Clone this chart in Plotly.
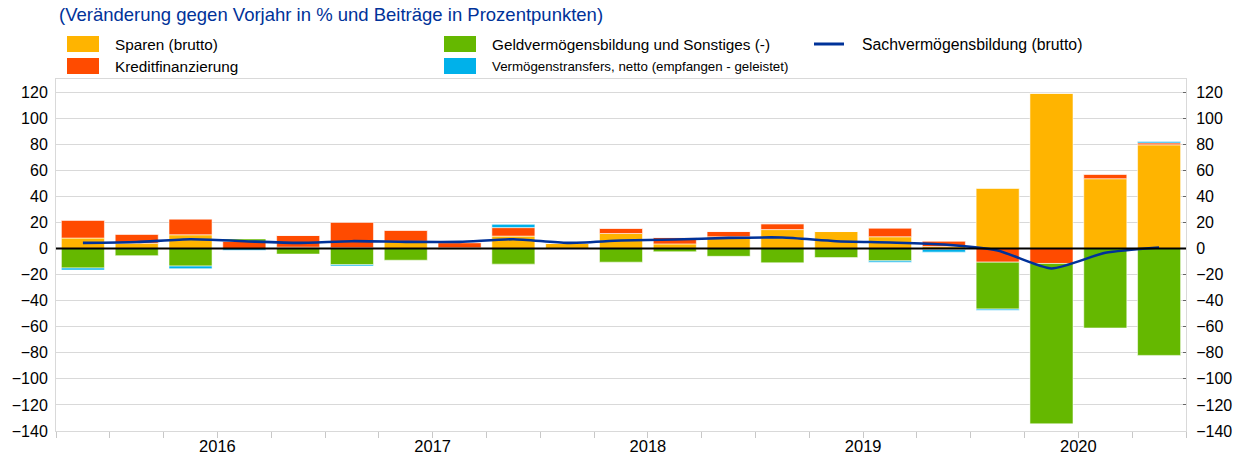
import plotly.graph_objects as go

quarters = ["2015Q4",
            "2016Q1", "2016Q2", "2016Q3", "2016Q4",
            "2017Q1", "2017Q2", "2017Q3", "2017Q4",
            "2018Q1", "2018Q2", "2018Q3", "2018Q4",
            "2019Q1", "2019Q2", "2019Q3", "2019Q4",
            "2020Q1", "2020Q2", "2020Q3", "2020Q4"]
years = ["2016", "2017", "2018", "2019", "2020"]

sparen = [8, 4, 10.5, 0, 1, 0.5, 5.5, 0.5, 9.5, 4, 11.5, 3.5, 9, 14.5, 13, 9, 1.5, 46, 119, 53.5, 79.5]
kredit = [13.5, 7, 12, 5.5, 9, 19.5, 8.5, 4, 6.5, 0, 4, 5, 4, 4.5, 0, 6.5, 4, -10.5, -11.5, 3.5, 1.5]
geld = [-15, -5.5, -13.5, 1.8, -4.3, -12.5, -9, -0.5, -12, -0.3, -10.5, -2.5, -6, -11, -7, -9.5, -0.8, -36, -123, -61, -82]
transfers = [-1.5, 0, -2, -1.3, 0, -1, 0, 0, 2.5, 0, 0, 0, 0, 0, 0, -1, -2, -0.8, 0, 0, 1]
sach = [4.3, 5, 7.1, 5.6, 4.3, 5.6, 5.1, 5.1, 7.1, 4.3, 6.1, 6.9, 8.1, 8.4, 5.6, 4.6, 3.1, -1.5, -15.3, -3.3, 0.8]

names = ["Sparen (brutto)", "Kreditfinanzierung",
         "Geldvermögensbildung und Sonstiges (-)",
         "Vermögenstransfers, netto (empfangen - geleistet)",
         "Sachvermögensbildung (brutto)"]
colors = ["#FFB400", "#FF4B00", "#65B800", "#00B1EA", "#003299"]

x = list(range(len(quarters)))
year_pos = [sum(i for i, q in enumerate(quarters) if q.startswith(y)) /
            sum(1 for q in quarters if q.startswith(y)) for y in years]
bounds = [i - 0.5 for i in range(len(quarters) + 1)]

FONT = "Arial, Liberation Sans, sans-serif"
fig = go.Figure()
for vals, nm, col in zip([sparen, kredit, geld, transfers], names[:4], colors[:4]):
    fig.add_trace(go.Bar(x=x, y=vals, name=nm, marker=dict(color=col,
                         line=dict(color="rgba(255,255,255,0.7)", width=0.8)),
                         width=0.8, showlegend=False))
fig.add_trace(go.Scatter(x=x, y=sach, name=names[4], mode="lines", yaxis="y2",
                         line=dict(color=colors[4], width=2.6, shape="spline", smoothing=0.6),
                         showlegend=False))

yticks = list(range(-140, 121, 20))
axis_common = dict(range=[-140, 130], tickvals=yticks, showgrid=True,
                   gridcolor="#d9d9d9", gridwidth=1, zeroline=False, automargin=False,
                   showline=True, linecolor="#d9d9d9", linewidth=1,
                   tickfont=dict(family=FONT, size=16, color="#000"))
fig.update_layout(
    width=1241, height=455,
    margin=dict(l=56, r=55, t=79, b=24, autoexpand=False),
    barmode="relative", bargap=0.2,
    plot_bgcolor="white", paper_bgcolor="white",
    font=dict(family=FONT, color="#000"),
    xaxis=dict(range=[-0.5, len(quarters) - 0.5], tickvals=year_pos, ticktext=years,
               ticks="", showgrid=False, zeroline=False, showline=True, automargin=False,
               linecolor="#d9d9d9", linewidth=1, mirror=True, ticklabelstandoff=0,
               tickfont=dict(family=FONT, size=16.5, color="#000"),
               minor=dict(tickmode="array", tickvals=bounds, ticks="outside",
                          ticklen=6, tickcolor="#c8c8c8", tickwidth=1, showgrid=False)),
    yaxis=dict(**axis_common, ticks="", ticklabelstandoff=4, mirror=True),
    yaxis2=dict(**axis_common, overlaying="y", side="right", ticks="inside",
                ticklen=3, tickcolor="#666", ticklabelstandoff=6),
)
fig.update_yaxes(showgrid=False, selector=dict(overlaying="y"))

fig.add_shape(type="line", xref="paper", x0=0, x1=1, yref="y", y0=0, y1=0,
              line=dict(color="#000", width=2), layer="above")

# title and legend (pixel helpers)
L, R, T, B = 56, 1186, 79, 431
def px(p):
    return (p - L) / (R - L)
def py(p):
    return (B - p) / (B - T)

fig.add_annotation(text="(Veränderung gegen Vorjahr in % und Beiträge in Prozentpunkten)",
                   xref="paper", yref="paper", x=px(57), y=py(15), xanchor="left",
                   yanchor="middle", showarrow=False,
                   font=dict(family=FONT, size=18.5, color="#003299"))

legend_items = [(names[0], colors[0], 67, 44, "bar", 15.3),
                (names[1], colors[1], 67, 66, "bar", 15.3),
                (names[2], colors[2], 444, 44, "bar", 15.3),
                (names[3], colors[3], 444, 66, "bar", 13.3),
                (names[4], colors[4], 814, 44, "line", 15.8)]
for nm, col, x0, yc, kind, fs in legend_items:
    if kind == "bar":
        fig.add_shape(type="rect", xref="paper", yref="paper",
                      x0=px(x0), x1=px(x0 + 32), y0=py(yc + 8), y1=py(yc - 8),
                      fillcolor=col, line=dict(width=0))
    else:
        fig.add_shape(type="line", xref="paper", yref="paper",
                      x0=px(x0), x1=px(x0 + 30), y0=py(yc), y1=py(yc),
                      line=dict(color=col, width=3))
    fig.add_annotation(text=nm, xref="paper", yref="paper", x=px(x0 + 46), y=py(yc),
                       xanchor="left", yanchor="middle", showarrow=False,
                       font=dict(family=FONT, size=fs, color="#000"))

fig.write_html("out.html", config={"displayModeBar": False},
               post_script="document.body.style.margin='0';document.body.style.overflow='hidden';")
